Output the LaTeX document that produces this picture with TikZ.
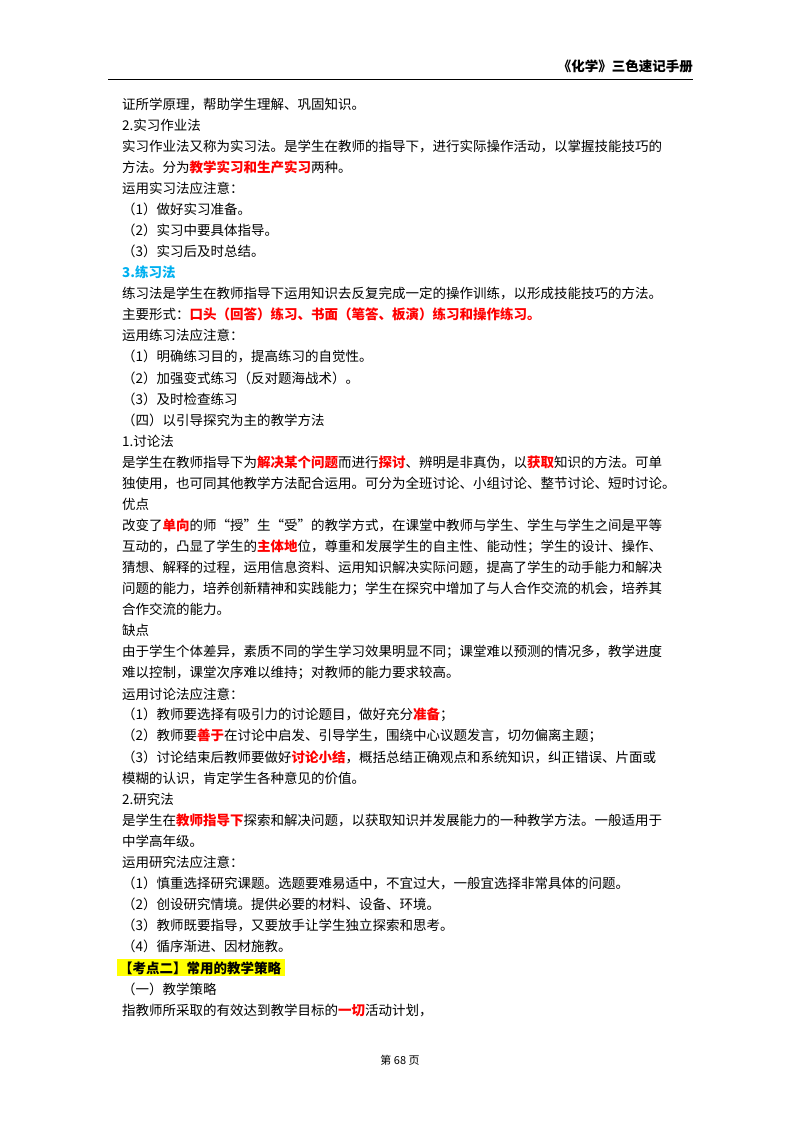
\documentclass[tikz,border=0pt]{standalone}
\usepackage{fontspec}
\setmainfont{Noto Sans CJK SC}
\definecolor{hired}{HTML}{FF0000}
\definecolor{hiblue}{HTML}{00B0F0}
\definecolor{hiyel}{HTML}{FFFF00}
\newcommand\hr[1]{\textbf{\color{hired}#1}}
\newcommand\pline[2]{\node[txt] (l#1) at (122,{104+(#1-1)*21.07}) {#2};}
\tikzset{txt/.style={anchor=west,inner sep=0pt,font=\fontsize{13.5}{16}\selectfont}}
\begin{document}
\begin{tikzpicture}[x=1pt,y=-1pt]
\useasboundingbox (0,0) rectangle (800,1132);
\node[anchor=east,inner sep=0pt,font=\fontsize{13.5}{16}\selectfont\bfseries] (hd) at (693,66) {《化学》三色速记手册};
\draw[line width=0.8pt] (108,79) coordinate (h1) -- (693,79) coordinate (h2);
\pline{1}{证所学原理，帮助学生理解、巩固知识。}
\pline{2}{2.实习作业法}
\pline{3}{实习作业法又称为实习法。是学生在教师的指导下，进行实际操作活动，以掌握技能技巧的}
\pline{4}{方法。分为\hr{教学实习和生产实习}两种。}
\pline{5}{运用实习法应注意：}
\pline{6}{（1）做好实习准备。}
\pline{7}{（2）实习中要具体指导。}
\pline{8}{（3）实习后及时总结。}
\pline{9}{\textbf{\color{hiblue}3.练习法}}
\pline{10}{练习法是学生在教师指导下运用知识去反复完成一定的操作训练，以形成技能技巧的方法。}
\pline{11}{主要形式：\hr{口头（回答）练习、书面（笔答、板演）练习和操作练习。}}
\pline{12}{运用练习法应注意：}
\pline{13}{（1）明确练习目的，提高练习的自觉性。}
\pline{14}{（2）加强变式练习（反对题海战术）。}
\pline{15}{（3）及时检查练习}
\pline{16}{（四）以引导探究为主的教学方法}
\pline{17}{1.讨论法}
\pline{18}{是学生在教师指导下为\hr{解决某个问题}而进行\hr{探讨}、辨明是非真伪，以\hr{获取}知识的方法。可单}
\pline{19}{独使用，也可同其他教学方法配合运用。可分为全班讨论、小组讨论、整节讨论、短时讨论。}
\pline{20}{优点}
\pline{21}{改变了\hr{单向}的师“授”生“受”的教学方式，在课堂中教师与学生、学生与学生之间是平等}
\pline{22}{互动的，凸显了学生的\hr{主体地}位，尊重和发展学生的自主性、能动性；学生的设计、操作、}
\pline{23}{猜想、解释的过程，运用信息资料、运用知识解决实际问题，提高了学生的动手能力和解决}
\pline{24}{问题的能力，培养创新精神和实践能力；学生在探究中增加了与人合作交流的机会，培养其}
\pline{25}{合作交流的能力。}
\pline{26}{缺点}
\pline{27}{由于学生个体差异，素质不同的学生学习效果明显不同；课堂难以预测的情况多，教学进度}
\pline{28}{难以控制，课堂次序难以维持；对教师的能力要求较高。}
\pline{29}{运用讨论法应注意：}
\pline{30}{（1）教师要选择有吸引力的讨论题目，做好充分\hr{准备}；}
\pline{31}{（2）教师要\hr{善于}在讨论中启发、引导学生，围绕中心议题发言，切勿偏离主题；}
\pline{32}{（3）讨论结束后教师要做好\hr{讨论小结}，概括总结正确观点和系统知识，纠正错误、片面或}
\pline{33}{模糊的认识，肯定学生各种意见的价值。}
\pline{34}{2.研究法}
\pline{35}{是学生在\hr{教师指导下}探索和解决问题，以获取知识并发展能力的一种教学方法。一般适用于}
\pline{36}{中学高年级。}
\pline{37}{运用研究法应注意：}
\pline{38}{（1）慎重选择研究课题。选题要难易适中，不宜过大，一般宜选择非常具体的问题。}
\pline{39}{（2）创设研究情境。提供必要的材料、设备、环境。}
\pline{40}{（3）教师既要指导，又要放手让学生独立探索和思考。}
\pline{41}{（4）循序渐进、因材施教。}
\node[txt,fill=hiyel,inner xsep=2pt,inner ysep=2pt,font=\fontsize{13.5}{16}\selectfont\bfseries] (l42) at (117,{104+41*21.07}) {【考点二】常用的教学策略\,};
\pline{43}{（一）教学策略}
\pline{44}{指教师所采取的有效达到教学目标的\hr{一切}活动计划，}
\node[inner sep=0pt,font=\fontsize{11}{13}\selectfont] (ft) at (400,1060) {第 68 页};
\end{tikzpicture}
\end{document}
